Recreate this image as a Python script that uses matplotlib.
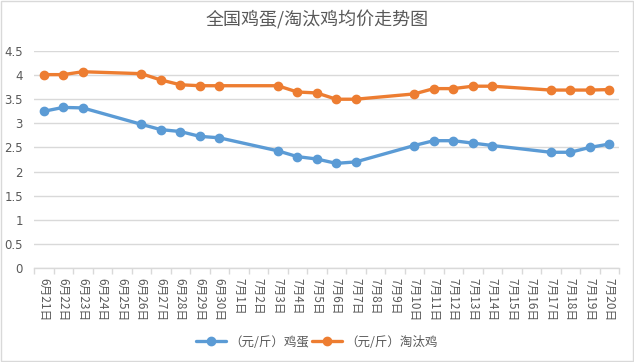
import matplotlib
matplotlib.use("Agg")
import matplotlib.pyplot as plt
from matplotlib.patches import Rectangle
import numpy as np

plt.rcParams['font.family'] = ['Noto Sans CJK SC', 'DejaVu Sans']

dates = ["6月21日", "6月22日", "6月23日", "6月24日", "6月25日", "6月26日", "6月27日",
         "6月28日", "6月29日", "6月30日", "7月1日", "7月2日", "7月3日", "7月4日",
         "7月5日", "7月6日", "7月7日", "7月8日", "7月9日", "7月10日", "7月11日",
         "7月12日", "7月13日", "7月14日", "7月15日", "7月16日", "7月17日", "7月18日",
         "7月19日", "7月20日"]

egg = [3.25, 3.33, 3.32, None, None, 2.98, 2.87, 2.83, 2.73, 2.70, None, None, 2.43, 2.31,
       2.26, 2.17, 2.20, None, None, 2.54, 2.64, 2.64, 2.59, 2.54, None, None, 2.40, 2.40,
       2.50, 2.57]
hen = [4.01, 4.01, 4.07, None, None, 4.03, 3.90, 3.80, 3.78, 3.78, None, None, 3.78, 3.65,
       3.63, 3.50, 3.50, None, None, 3.61, 3.72, 3.72, 3.77, 3.77, None, None, 3.69, 3.69,
       3.69, 3.70]

series_names = ["（元/斤）鸡蛋", "（元/斤）淘汰鸡"]
colors = ["#5B9BD5", "#ED7D31"]
yticks = [0, 0.5, 1, 1.5, 2, 2.5, 3, 3.5, 4, 4.5]
ytick_labels = ["0", "0.5", "1", "1.5", "2", "2.5", "3", "3.5", "4", "4.5"]
title = "全国鸡蛋/淘汰鸡均价走势图"

fig = plt.figure(figsize=(6.34, 3.62), dpi=100)
fig.patches.append(Rectangle((0.001, 0.002), 0.997, 0.995, transform=fig.transFigure,
                             fill=False, edgecolor="#D9D9D9", linewidth=1.0))
ax = fig.add_axes([34/634, 1 - 268/362, (619 - 34)/634, (268 - 51)/362])

text_color = "#595959"
for vals, name, c in zip([egg, hen], series_names, colors):
    idx = [i for i, v in enumerate(vals) if v is not None]
    vv = [vals[i] for i in idx]
    ax.plot(idx, vv, color=c, linewidth=2.4, marker="o", markersize=6,
            markeredgecolor=c, markerfacecolor=c, label=name, solid_capstyle="round")

ax.set_xlim(-0.5, len(dates) - 0.5)
ax.set_ylim(0, 4.5)
ax.set_yticks(yticks)
ax.set_yticklabels(ytick_labels, color=text_color, fontsize=8.5, family=["DejaVu Sans"])
ax.set_xticks(range(len(dates)))
ax.set_xticklabels(dates, rotation=-90, color=text_color, fontsize=8.5)
ax.set_xticks(np.arange(-0.5, len(dates), 1), minor=True)
ax.tick_params(axis="x", which="major", length=0, pad=7)
ax.tick_params(axis="x", which="minor", length=4, color="#D9D9D9", width=1)
ax.tick_params(axis="y", length=0, pad=8)

ax.grid(axis="y", color="#D9D9D9", linewidth=1)
ax.set_axisbelow(True)
for s in ["top", "right", "left"]:
    ax.spines[s].set_visible(False)
ax.spines["bottom"].set_color("#D9D9D9")
ax.spines["bottom"].set_linewidth(1)

fig.text(0.5, 1 - 20/362, title, ha="center", va="center", fontsize=13, color=text_color)

leg = fig.legend(loc="center", bbox_to_anchor=(0.5, 1 - 342/362), ncol=2, frameon=False,
                 fontsize=9, handlelength=2.4, columnspacing=0.2, handletextpad=0.3)
for t in leg.get_texts():
    t.set_color(text_color)

fig.savefig("out.png", dpi=100)
